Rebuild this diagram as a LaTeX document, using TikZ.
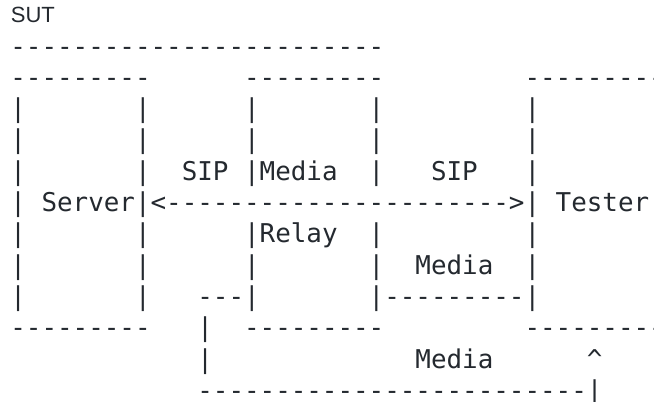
\documentclass[tikz,border=0pt]{standalone}
\usepackage{fontspec}
\setmonofont{DejaVu Sans Mono}
\newfontfamily\sutfont{Liberation Sans}
\usetikzlibrary{positioning}
\definecolor{ink}{RGB}{36,41,47}

\begin{document}
\begin{tikzpicture}[x=15.58pt,y=-31.3pt,
	ascii/.style={anchor=base west,inner sep=0pt,text=ink,
		font=\ttfamily\fontsize{25.88pt}{31.3pt}\selectfont},
	title/.style={anchor=base west,inner sep=0pt,text=ink,
		font=\sutfont\fontsize{22pt}{26pt}\selectfont}]
	\useasboundingbox (-10.2pt,-7.6pt) rectangle (643.8pt,-409.6pt);
	\node[title] (sut) at (0.03,0.97) {SUT};
	% outer box and boxes
	\node[ascii] (sutline) at (0,2) {------------------------};
	\node[ascii] (srvtop) at (0,3) {---------};
	\node[ascii] (mrtop) at (15,3) {---------};
	\node[ascii] (tsttop) at (33,3) {---------};
	\foreach \row in {4,5,6,8,9}
		\foreach \col in {0,8,15,23,33}
			\node[ascii] (bar-\row-\col) at (\col,\row) {|};
	\foreach \col in {0,8,33}
		\node[ascii] (bar-7-\col) at (\col,7) {|};
	\node[ascii] (bar-10-0) at (0,10) {|};
	\node[ascii] (bar-10-8) at (8,10) {|};
	% labels
	\node[ascii] (sipl) at (11,6) {SIP};
	\node[ascii] (media) at (16,6) {Media};
	\node[ascii] (sipr) at (27,6) {SIP};
	\node[ascii] (server) at (2,7) {Server};
	\node[ascii] (sip) at (9,7) {<----------------------};
	\node[ascii] (sipend) at (32,7) {>};
	\node[ascii] (tester) at (35,7) {Tester};
	\node[ascii] (relay) at (16,8) {Relay};
	\node[ascii] (media1) at (26,9) {Media};
	% media paths
	\node[ascii] (mout) at (12,10) {---|};
	\node[ascii] (mret) at (23,10) {|---------|};
	\node[ascii] (srvbot) at (0,11) {---------};
	\node[ascii] (mdown) at (12,11) {|};
	\node[ascii] (mrbot) at (15,11) {---------};
	\node[ascii] (tstbot) at (33,11) {---------};
	\node[ascii] (mdown2) at (12,12) {|};
	\node[ascii] (media2) at (26,12) {Media};
	\node[ascii] (mup) at (37,12) {\^{}};
	\node[ascii] (mloop) at (12,13) {-------------------------};
	\node[ascii] (mloopend) at (37,13) {|};
\end{tikzpicture}
\end{document}
